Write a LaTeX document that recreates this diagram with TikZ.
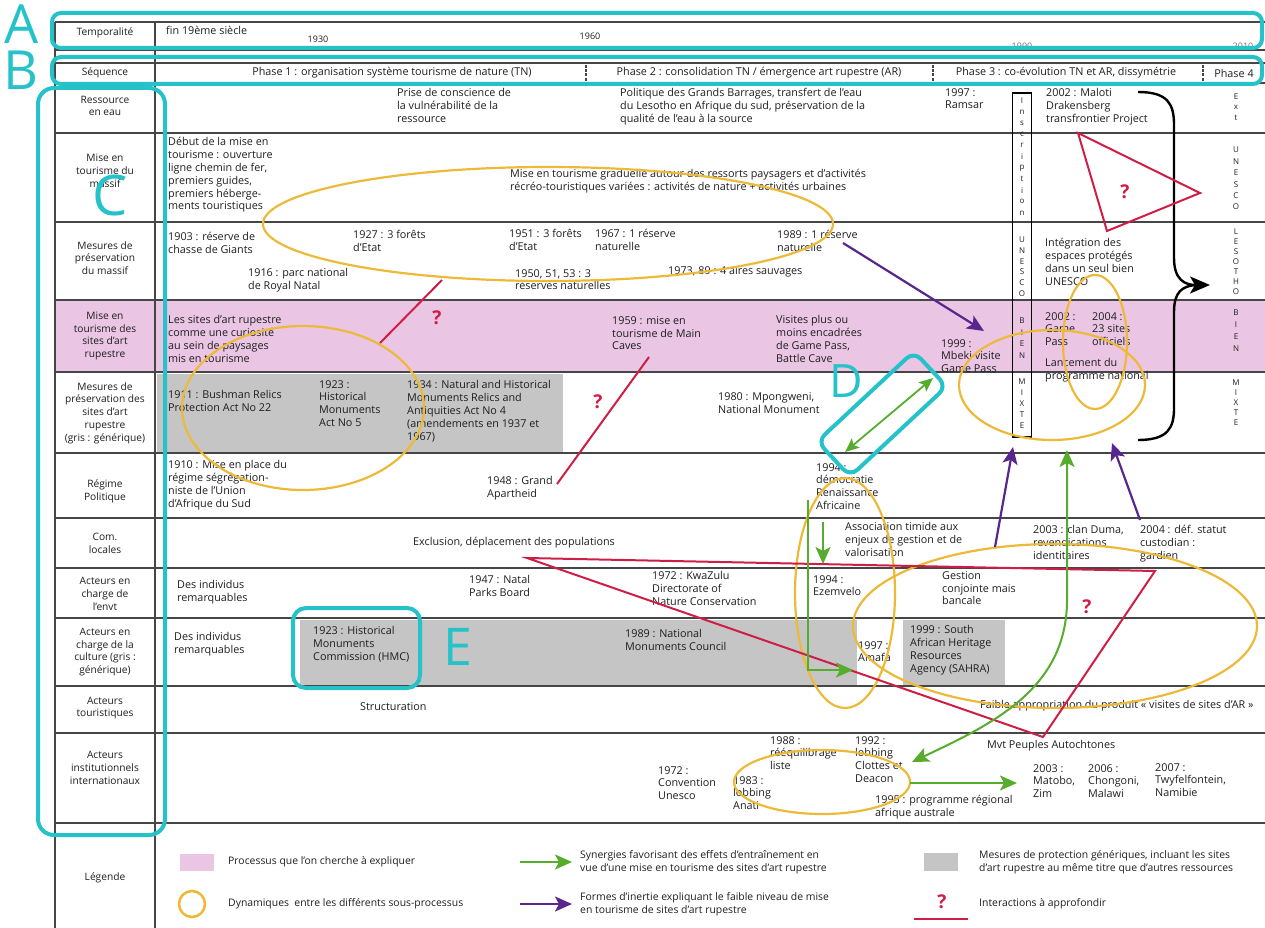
\documentclass[tikz,border=0pt]{standalone}
\usepackage{fontspec}
\setmainfont{Open Sans}
\usetikzlibrary{arrows.meta,calc}

\definecolor{cyanmark}{RGB}{38,194,202}
\definecolor{dyn}{RGB}{236,186,56}
\definecolor{inter}{RGB}{206,30,70}
\definecolor{syn}{RGB}{86,172,44}
\definecolor{inert}{RGB}{88,38,140}
\definecolor{procpink}{RGB}{234,198,228}
\definecolor{genrgray}{RGB}{197,197,197}
\definecolor{rule}{RGB}{70,70,70}
\definecolor{ink}{RGB}{30,30,30}

\newcommand{\bodysize}{\fontsize{10.8}{12.9}\selectfont}
\newcommand{\labsize}{\fontsize{10.2}{12.8}\selectfont}
\newcommand{\phasesize}{\fontsize{10.8}{12}\selectfont}
\newcommand{\legsize}{\fontsize{10.4}{12.8}\selectfont}

\tikzset{
  txt/.style={font=\bodysize, text=ink, align=left, anchor=north west, inner sep=0pt},
  lbl/.style={font=\labsize, text=ink, align=center, inner sep=0pt},
  phase/.style={font=\phasesize, text=ink, inner sep=0pt},
  leg/.style={font=\legsize, text=ink, align=left, anchor=west, inner sep=0pt},
  vlet/.style={font=\fontsize{8}{8}\selectfont, text=ink, inner sep=0pt},
  rowline/.style={draw=rule, line width=1.5pt},
  markbox/.style={draw=cyanmark, line width=4pt},
  markletter/.style={text=cyanmark, inner sep=0pt, anchor=base, text depth=0pt},
  dynring/.style={draw=dyn, line width=2.2pt},
  interline/.style={draw=inter, line width=2pt},
  quest/.style={text=inter, font=\bfseries\fontsize{19}{19}\selectfont, inner sep=0pt},
  tipS/.tip={Stealth[length=17pt,width=15pt,inset=4pt]},
  tipD/.tip={Stealth[length=14pt,width=12pt,inset=3pt]},
  synarrow/.style={draw=syn, line width=2pt, -{tipS}},
  inertarrow/.style={draw=inert, line width=2.2pt, -{tipS}},
}

\begin{document}
\begin{tikzpicture}[x=1pt,y=-1pt]
\useasboundingbox (0,0) rectangle (1265,928);

% ---- shaded cells
\fill[procpink] (55,300) rectangle (1265,372);
\fill[genrgray] (157,374) rectangle (563,452);
\fill[genrgray] (300,620) rectangle (857,685);
\fill[genrgray] (903,620) rectangle (1005,685);

% ---- table rules
\foreach \yy in {22,50,63,83,133,222,300,372,453,518,568,618,686,733,823}
  \draw[rowline] (55,\yy) -- (1265,\yy);
\draw[rowline] (55,22) -- (55,928);
\draw[rowline] (155,22) -- (155,928);
\foreach \xx in {586,933,1203}
  \draw[draw=rule, line width=2.4pt, dash pattern=on 3pt off 1.2pt] (\xx,65) -- (\xx,81);

% ---- row headings
\node[lbl] (lab-temp) at (105,33) {Temporalité};
\node[lbl] (lab-seq) at (105,73) {Séquence};
\node[lbl] (lab-eau) at (105,106) {Ressource\\en eau};
\node[lbl] (lab-mtm) at (105,171) {Mise en\\tourisme du\\massif};
\node[lbl] (lab-mpm) at (105,258) {Mesures de\\préservation\\du massif};
\node[lbl] (lab-mts) at (105,336) {Mise en\\tourisme des\\sites d'art\\rupestre};
\node[lbl] (lab-mps) at (105,413) {Mesures de\\préservation des\\sites d'art\\rupestre\\(gris : générique)};
\node[lbl] (lab-reg) at (105,491) {Régime\\Politique};
\node[lbl] (lab-com) at (105,543) {Com.\\locales};
\node[lbl] (lab-env) at (105,594) {Acteurs en\\charge de\\l'envt};
\node[lbl] (lab-cul) at (105,652) {Acteurs en\\charge de la\\culture (gris :\\générique)};
\node[lbl] (lab-tou) at (105,708) {Acteurs\\touristiques};
\node[lbl] (lab-int) at (105,768) {Acteurs\\institutionnels\\internationaux};
\node[lbl] (lab-leg) at (105,878) {Légende};

% ---- time line and phases
\node[txt] (tm-fin) at (166,26) {fin 19ème siècle};
\node[phase, font=\fontsize{9}{9}\selectfont] (tm-1930) at (318,39) {1930};
\node[phase, font=\fontsize{9}{9}\selectfont] (tm-1960) at (590,36) {1960};
\node[phase, font=\fontsize{9}{9}\selectfont, text=ink!60] (tm-1990) at (1022,46) {1990};
\node[phase, font=\fontsize{9}{9}\selectfont, text=ink!60] (tm-2010) at (1243,46) {2010};
\node[phase] (ph-1) at (392,73) {Phase 1 : organisation système tourisme de nature (TN)};
\node[phase] (ph-2) at (759,73) {Phase 2 : consolidation TN / émergence art rupestre (AR)};
\node[phase] (ph-3) at (1066,73) {Phase 3 : co-évolution TN et AR, dissymétrie};
\node[phase] (ph-4) at (1234,73) {Phase 4};

% ---- ressource en eau
\node[txt] (eau-1) at (397,88) {Prise de conscience de\\la vulnérabilité de la\\ressource};
\node[txt] (eau-2) at (620,88) {Politique des Grands Barrages, transfert de l'eau\\du Lesotho en Afrique du sud, préservation de la\\qualité de l'eau à la source};
\node[txt] (eau-3) at (945,88) {1997 :\\Ramsar};
\node[txt] (eau-4) at (1046,88) {2002 : Maloti\\Drakensberg\\transfrontier Project};

% ---- mise en tourisme du massif
\node[txt] (mtm-1) at (168,137) {Début de la mise en\\tourisme : ouverture\\ligne chemin de fer,\\premiers guides,\\premiers héberge-\\ments touristiques};
\node[txt] (mtm-2) at (510,169) {Mise en tourisme graduelle autour des ressorts paysagers et d'activités\\récréo-touristiques variées : activités de nature + activités urbaines};

% ---- mesures de preservation du massif
\node[txt] (mpm-1903) at (168,232) {1903 : réserve de\\chasse de Giants};
\node[txt] (mpm-1927) at (353,230) {1927 : 3 forêts\\d'Etat};
\node[txt] (mpm-1916) at (248,268) {1916 : parc national\\de Royal Natal};
\node[txt] (mpm-1951) at (509,229) {1951 : 3 forêts\\d'Etat};
\node[txt] (mpm-1967) at (595,229) {1967 : 1 réserve\\naturelle};
\node[txt] (mpm-1989) at (777,230) {1989 : 1 réserve\\naturelle};
\node[txt] (mpm-1950) at (515,269) {1950, 51, 53 : 3\\réserves naturelles};
\node[txt] (mpm-1973) at (668,266) {1973, 89 : 4 aires sauvages};
\node[txt] (mpm-int) at (1045,238) {Intégration des\\espaces protégés\\dans un seul bien\\UNESCO};

% ---- mise en tourisme des sites
\node[txt] (mts-1) at (168,315) {Les sites d'art rupestre\\comme une curiosité\\au sein de paysages\\mis en tourisme};
\node[txt] (mts-1959) at (612,316) {1959 : mise en\\tourisme de Main\\Caves};
\node[txt] (mts-vis) at (776,315) {Visites plus ou\\moins encadrées\\de Game Pass,\\Battle Cave};
\node[txt] (mts-1999) at (941,339) {1999 :\\Mbeki visite\\Game Pass};
\node[txt] (mts-2002) at (1045,312) {2002 :\\Game\\Pass};
\node[txt] (mts-2004) at (1092,312) {2004 :\\23 sites\\officiels};
\node[txt] (mts-lanc) at (1045,358) {Lancement du\\programme national};

% ---- mesures de preservation des sites
\node[txt] (mps-1911) at (168,390) {1911 : Bushman Relics\\Protection Act No 22};
\node[txt] (mps-1923) at (319,380) {1923 :\\Historical\\Monuments\\Act No 5};
\node[txt] (mps-1934) at (407,380) {1934 : Natural and Historical\\Monuments Relics and\\Antiquities Act No 4\\(amendements en 1937 et\\1967)};
\node[txt] (mps-1980) at (718,392) {1980 : Mpongweni,\\National Monument};

% ---- regime politique
\node[txt] (reg-1910) at (168,460) {1910 : Mise en place du\\régime ségrégation-\\niste de l'Union\\d'Afrique du Sud};
\node[txt] (reg-1948) at (487,476) {1948 : Grand\\Apartheid};
\node[txt] (reg-1994) at (816,463) {1994 :\\démocratie\\Renaissance\\Africaine};

% ---- communautes locales
\node[txt] (com-excl) at (413,537) {Exclusion, déplacement des populations};
\node[txt] (com-asso) at (845,522) {Association timide aux\\enjeux de gestion et de\\valorisation};
\node[txt] (com-2003) at (1033,525) {2003 : clan Duma,\\revendications\\identitaires};
\node[txt] (com-2004) at (1140,525) {2004 : déf. statut\\custodian :\\gardien};

% ---- acteurs environnement
\node[txt] (env-ind) at (177,580) {Des individus\\remarquables};
\node[txt] (env-1947) at (469,575) {1947 : Natal\\Parks Board};
\node[txt] (env-1972) at (652,571) {1972 : KwaZulu\\Directorate of\\Nature Conservation};
\node[txt] (env-1994) at (813,575) {1994 :\\Ezemvelo};
\node[txt] (env-gest) at (942,571) {Gestion\\conjointe mais\\bancale};

% ---- acteurs culture
\node[txt] (cul-ind) at (174,632) {Des individus\\remarquables};
\node[txt] (cul-1923) at (313,626) {1923 : Historical\\Monuments\\Commission (HMC)};
\node[txt] (cul-1989) at (625,629) {1989 : National\\Monuments Council};
\node[txt] (cul-1997) at (858,641) {1997 :\\Amafa};
\node[txt] (cul-1999) at (910,625) {1999 : South\\African Heritage\\Resources\\Agency (SAHRA)};

% ---- acteurs touristiques
\node[txt] (tou-str) at (360,702) {Structuration};
\node[txt] (tou-faib) at (980,700) {Faible appropriation du produit « visites de sites d'AR »};

% ---- acteurs institutionnels internationaux
\node[txt] (int-mvt) at (987,740) {Mvt Peuples Autochtones};
\node[txt] (int-1988) at (770,736) {1988 :\\rééquilibrage\\liste};
\node[txt] (int-1992) at (855,736) {1992 :\\lobbing\\Clottes et\\Deacon};
\node[txt] (int-1972) at (658,766) {1972 :\\Convention\\Unesco};
\node[txt] (int-1983) at (733,776) {1983 :\\lobbing\\Anati};
\node[txt] (int-1995) at (875,795) {1995 : programme régional\\afrique australe};
\node[txt] (int-2003) at (1033,764) {2003 :\\Matobo,\\Zim};
\node[txt] (int-2006) at (1088,764) {2006 :\\Chongoni,\\Malawi};
\node[txt] (int-2007) at (1155,763) {2007 :\\Twyfelfontein,\\Namibie};

% ---- inscription column and right-hand lettering
\node[draw=black, line width=1.8pt, minimum width=19pt, minimum height=344pt, inner sep=0pt] (insbox) at (1022,265) {};
\foreach \ch [count=\k from 0] in {I,n,s,c,r,i,p,t,i,o,n}
  \node[vlet] (vb-ins-\k) at (1022,{101+11.2*\k}) {\ch};
\foreach \ch [count=\k from 0] in {U,N,E,S,C,O}
  \node[vlet] (vb-une-\k) at (1022,{240+10.7*\k}) {\ch};
\foreach \ch [count=\k from 0] in {B,I,E,N}
  \node[vlet] (vb-bie-\k) at (1022,{321+11.5*\k}) {\ch};
\foreach \ch [count=\k from 0] in {M,I,X,T,E}
  \node[vlet] (vb-mix-\k) at (1022,{382+10.8*\k}) {\ch};
\foreach \ch [count=\k from 0] in {E,x,t}
  \node[vlet] (rc-ext-\k) at (1236,{97+10.5*\k}) {\ch};
\foreach \ch [count=\k from 0] in {U,N,E,S,C,O}
  \node[vlet] (rc-une-\k) at (1236,{150+11.4*\k}) {\ch};
\foreach \ch [count=\k from 0] in {L,E,S,O,T,H,O}
  \node[vlet] (rc-les-\k) at (1236,{232+10*\k}) {\ch};
\foreach \ch [count=\k from 0] in {B,I,E,N}
  \node[vlet] (rc-bie-\k) at (1236,{313+12*\k}) {\ch};
\foreach \ch [count=\k from 0] in {M,I,X,T,E}
  \node[vlet] (rc-mix-\k) at (1236,{383+10*\k}) {\ch};

% ---- brace gathering the inscription
\coordinate (br-t) at (1138,92);
\coordinate (br-b) at (1138,440);
\coordinate (br-tip) at (1210,285);
\coordinate (br-join) at (1196,285);
\draw[line width=2.4pt, -{Stealth[length=20pt,width=17pt,inset=5pt]}]
  (br-t) .. controls (1168,92) and (1174,104) .. (1174,125) -- (1174,258)
  .. controls (1174,280) and (1185,285) .. (br-tip);
\draw[line width=2.4pt]
  (br-b) .. controls (1168,440) and (1174,428) .. (1174,408) -- (1174,312)
  .. controls (1174,292) and (1182,286) .. (br-join);

% ---- dynamics between sub-processes
\coordinate (dyn-1) at (548,224);
\coordinate (dyn-2) at (303,408);
\coordinate (dyn-3) at (1052,385);
\coordinate (dyn-4) at (1095,342);
\coordinate (dyn-5) at (845,593);
\coordinate (dyn-6) at (1055,626);
\coordinate (dyn-7) at (822,782);
\draw[dynring] (dyn-1) ellipse [x radius=285, y radius=57];
\draw[dynring] (dyn-2) ellipse [x radius=121, y radius=82];
\draw[dynring] (dyn-3) ellipse [x radius=93, y radius=55];
\draw[dynring] (dyn-4) ellipse [x radius=32, y radius=67];
\draw[dynring] (dyn-5) ellipse [x radius=50, y radius=115];
\draw[dynring] (dyn-6) ellipse [x radius=202, y radius=82];
\draw[dynring] (dyn-7) ellipse [x radius=88, y radius=32];

% ---- interactions still to be explored
\coordinate (q1-a) at (442,280); \coordinate (q1-b) at (380,343);
\draw[interline] (q1-a) -- (q1-b);
\node[quest] (q1) at (437,318) {?};
\coordinate (q2-a) at (649,357); \coordinate (q2-b) at (557,484);
\draw[interline] (q2-a) -- (q2-b);
\node[quest] (q2) at (598,402) {?};
\coordinate (q3-a) at (1078,133); \coordinate (q3-b) at (1200,193); \coordinate (q3-c) at (1107,231);
\draw[interline] (q3-a) -- (q3-b) -- (q3-c) -- cycle;
\node[quest] (q3) at (1125,192) {?};
\coordinate (q4-a) at (527,558); \coordinate (q4-b) at (1155,571); \coordinate (q4-c) at (1043,737);
\draw[interline] (q4-a) -- (q4-b) -- (q4-c) -- cycle;
\node[quest] (q4) at (1087,607) {?};

% ---- synergies
\coordinate (s1-a) at (845,452); \coordinate (s1-b) at (933,378);
\draw[draw=syn, line width=1.8pt, {tipD}-{tipD}] (s1-a) -- (s1-b);
\coordinate (s2-a) at (808,500); \coordinate (s2-b) at (853,670);
\draw[synarrow] (s2-a) |- (s2-b);
\coordinate (s3-a) at (823,522); \coordinate (s3-b) at (823,564);
\draw[synarrow] (s3-a) -- (s3-b);
\coordinate (s4-a) at (1067,450); \coordinate (s4-m) at (1067,600); \coordinate (s4-b) at (912,762);
\draw[draw=syn, line width=2pt, {tipS}-{tipS}] (s4-a) -- (s4-m) .. controls (1067,690) and (990,725) .. (s4-b);
\coordinate (s5-a) at (910,783); \coordinate (s5-b) at (1017,783);
\draw[synarrow] (s5-a) -- (s5-b);

% ---- inertia
\coordinate (i1-a) at (843,243); \coordinate (i1-b) at (984,331);
\draw[inertarrow] (i1-a) -- (i1-b);
\coordinate (i2-a) at (995,547); \coordinate (i2-b) at (1013,447);
\draw[inertarrow] (i2-a) -- (i2-b);
\coordinate (i3-a) at (1140,520); \coordinate (i3-b) at (1112,443);
\draw[inertarrow] (i3-a) -- (i3-b);

% ---- legend
\node[fill=procpink, minimum width=34pt, minimum height=17pt, inner sep=0pt] (leg-pink) at (197,862) {};
\node[leg] (leg-pink-t) at (228,862) {Processus que l'on cherche à expliquer};
\node[circle, draw=dyn, line width=2.6pt, minimum size=26pt, inner sep=0pt] (leg-ring) at (192,904) {};
\node[leg] (leg-ring-t) at (228,904) {Dynamiques\ \ entre les différents sous-processus};
\coordinate (leg-syn-a) at (520,862); \coordinate (leg-syn-b) at (572,862);
\draw[synarrow] (leg-syn-a) -- (leg-syn-b);
\node[leg] (leg-syn-t) at (580,862) {Synergies favorisant des effets d'entraînement en\\vue d'une mise en tourisme des sites d'art rupestre};
\coordinate (leg-ine-a) at (520,904); \coordinate (leg-ine-b) at (572,904);
\draw[inertarrow] (leg-ine-a) -- (leg-ine-b);
\node[leg] (leg-ine-t) at (580,904) {Formes d'inertie expliquant le faible niveau de mise\\en tourisme de sites d'art rupestre};
\node[fill=genrgray, minimum width=34pt, minimum height=18pt, inner sep=0pt] (leg-gray) at (941,862) {};
\node[leg] (leg-gray-t) at (979,862) {Mesures de protection génériques, incluant les sites\\d'art rupestre au même titre que d'autres ressources};
\node[quest] (leg-q) at (942,902) {?};
\coordinate (leg-q-a) at (914,919); \coordinate (leg-q-b) at (968,919);
\draw[interline, line width=2.5pt] (leg-q-a) -- (leg-q-b);
\node[leg] (leg-q-t) at (979,904) {Interactions à approfondir};

% ---- lettered highlights
\draw[markbox, rounded corners=9pt] (52,13) rectangle (1262,48);
\draw[markbox, rounded corners=9pt] (52,57) rectangle (1262,84);
\draw[markbox, rounded corners=16pt] (38,88) rectangle (165,835);
\node[markbox, rounded corners=10pt, minimum width=132pt, minimum height=48pt, inner sep=0pt, rotate=43] (mk-Dbox) at (882,414) {};
\draw[markbox, rounded corners=13pt] (293,608) rectangle (420,688);
\node[markletter, font=\fontsize{54}{54}\selectfont, text height=38pt] (mk-A) at (22,44) {A};
\node[markletter, font=\fontsize{54}{54}\selectfont, text height=38pt] (mk-B) at (21,90) {B};
\node[markletter, font=\fontsize{56}{56}\selectfont, text height=40pt] (mk-C) at (110,215) {C};
\node[markletter, font=\fontsize{46}{46}\selectfont, text height=33pt] (mk-D) at (846,397) {D};
\node[markletter, font=\fontsize{52}{52}\selectfont, text height=37pt] (mk-E) at (458,665) {E};
\end{tikzpicture}
\end{document}
